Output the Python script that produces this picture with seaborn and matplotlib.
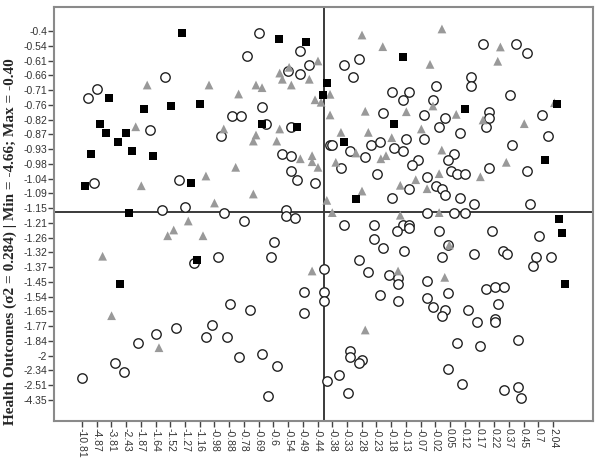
import pandas as pd
import seaborn as sns
import matplotlib.pyplot as plt

# eixos ordinais: posicao = indice do rotulo
x_labels = ['-10.81', '-4.87', '-3.81', '-2.43', '-1.87', '-1.64', '-1.52', '-1.27', '-1.16',
            '-0.98', '-0.88', '-0.78', '-0.69', '-0.6', '-0.54', '-0.49', '-0.44', '-0.38',
            '-0.33', '-0.28', '-0.23', '-0.18', '-0.13', '-0.07', '-0.02', '0.05', '0.12',
            '0.17', '0.22', '0.37', '0.45', '0.7', '2.04']
y_labels = ['-0.4', '-0.54', '-0.61', '-0.66', '-0.71', '-0.76', '-0.82', '-0.87', '-0.93',
            '-0.98', '-1.04', '-1.09', '-1.15', '-1.21', '-1.26', '-1.32', '-1.37', '-1.45',
            '-1.54', '-1.65', '-1.77', '-1.84', '-2', '-2.34', '-2.51', '-4.35']

# media (linhas de referencia), em unidades de indice
x_mean = 16.44
y_mean = 12.27

# quadrados pretos
sq_x = [6.81, 13.41, 15.21, 16.63, 16.39, 1.83, 4.23, 6.02, 8.02, 1.22, 1.63, 3.01, 2.43,
        3.42, 0.61, 4.83, 12.23, 14.62, 0.21, 7.42, 3.22, 21.83, 26.02, 32.25, 21.22, 17.82,
        31.45, 18.63, 32.42, 32.63, 32.83, 7.81, 2.61]
sq_y = [0.12, 0.52, 0.73, 3.50, 4.32, 4.52, 5.31, 5.10, 4.93, 6.31, 6.92, 6.92, 7.51,
        8.12, 8.32, 8.50, 6.33, 6.51, 10.51, 10.33, 12.31, 1.74, 5.31, 4.93, 6.33, 7.53,
        8.73, 11.36, 12.73, 13.72, 17.13, 15.53, 17.13]

# triangulos cinzas
tr_x = [16.03, 14.07, 13.43, 13.61, 15.44, 14.22, 4.43, 8.63, 11.82, 12.23, 10.64, 15.83,
        16.24, 16.85, 3.65, 9.63, 11.82, 11.64, 13.23, 13.43, 15.63, 14.83, 15.63, 16.03,
        10.44, 8.42, 4.03, 11.64, 9.00, 16.63, 7.22, 19.02, 24.45, 20.43, 28.42, 28.24,
        23.64, 16.85, 19.24, 22.03, 23.84, 25.42, 27.24, 30.04, 32.09, 17.59, 19.45, 21.04,
        23.05, 18.61, 20.30, 20.65, 24.44, 17.24, 28.82, 24.26, 22.67, 27.06, 21.62, 23.44,
        19.02, 17.00, 21.62, 24.26, 6.23, 5.82, 8.22, 1.40, 15.63, 2.01, 5.23, 24.95, 21.47,
        24.64, 19.24]
tr_y = [2.03, 2.46, 2.85, 3.27, 3.27, 3.66, 3.66, 3.66, 3.66, 3.84, 4.27, 4.66,
        4.83, 5.69, 6.49, 6.64, 7.05, 7.46, 7.46, 6.64, 8.45, 8.66, 8.86, 9.24,
        9.24, 9.83, 10.49, 11.05, 11.66, 11.48, 12.88, 0.27, -0.14, 1.06, 1.08, 2.05,
        2.26, 4.29, 5.44, 5.47, 5.08, 5.65, 6.03, 6.28, 4.86, 6.87, 6.87, 7.23,
        6.64, 8.27, 8.66, 8.45, 8.07, 8.90, 8.90, 9.67, 10.08, 9.88, 10.46, 10.69,
        10.85, 12.31, 12.49, 12.31, 13.49, 13.88, 13.88, 15.27, 16.27, 19.30, 21.47, 14.51, 16.27,
        16.70, 20.27]

# circulos abertos
ci_x = [12.02, 11.23, 14.81, 15.44, 14.01, 14.81, 5.62, 1.04, 0.42, 12.23, 10.21, 10.82,
        4.62, 9.42, 12.48, 14.20, 13.61, 14.22, 14.22, 14.62, 15.83, 0.84, 6.61, 5.46,
        7.02, 9.62, 13.84, 13.84, 14.45, 11.03, 16.85, 13.04, 9.24, 7.61, 12.82, 16.44,
        15.06, 16.44, 16.44, 15.06, 10.03, 11.43, 6.41, 8.84, 5.02, 8.42, 9.83, 3.82,
        10.64, 12.23, 13.23, 2.22, 2.83, 0.02, 12.64, 16.63, 27.22, 29.46, 30.25, 18.84,
        17.82, 18.43, 26.45, 26.45, 24.03, 21.04, 22.23, 21.83, 23.84, 29.06, 20.43, 23.25,
        24.64, 24.23, 27.63, 27.63, 27.43, 31.25, 31.66, 25.66, 17.00, 18.23, 19.64, 20.25,
        19.22, 21.22, 21.83, 22.03, 23.25, 25.25, 24.84, 22.83, 22.44, 17.61, 20.04, 23.44,
        25.05, 25.45, 26.03, 27.65, 29.23, 30.25, 24.03, 24.45, 24.64, 22.23, 21.04, 25.66,
        26.63, 30.44, 23.44, 25.25, 26.03, 17.82, 19.83, 21.83, 22.23, 22.23, 21.42, 24.26,
        27.85, 31.02, 19.83, 20.43, 21.86, 24.84, 24.45, 26.63, 28.62, 28.88, 30.84, 31.84,
        30.62, 18.84, 19.45, 20.83, 21.44, 21.44, 23.44, 24.84, 27.45, 28.06, 28.65, 20.25,
        21.44, 23.44, 23.86, 24.64, 24.45, 26.24, 28.26, 26.83, 28.04, 28.04, 25.45, 27.04,
        29.64, 18.23, 18.23, 19.04, 18.84, 17.44, 24.84, 25.84, 28.65, 29.64, 18.04, 29.85]
ci_y = [0.12, 1.69, 1.34, 2.31, 2.69, 2.92, 3.12, 3.93, 4.52, 5.13, 5.74, 5.74,
        6.71, 7.12, 6.33, 6.51, 8.32, 8.50, 9.51, 10.12, 10.31, 10.33, 10.12, 12.12,
        11.91, 12.31, 12.12, 12.52, 12.71, 12.88, 7.71, 14.33, 15.32, 15.71, 15.32, 16.14,
        17.72, 17.72, 18.33, 19.14, 18.53, 18.92, 20.12, 19.93, 20.54, 20.73, 20.73, 21.13,
        22.10, 21.92, 22.71, 22.53, 23.12, 23.53, 24.73, 23.75, 0.90, 0.90, 1.51, 1.92,
        2.33, 3.12, 3.12, 3.71, 3.71, 4.12, 4.12, 4.70, 4.70, 4.32, 5.54, 5.72,
        5.92, 6.53, 5.51, 5.92, 6.53, 5.72, 7.12, 6.94, 7.73, 8.12, 7.73, 7.53,
        8.52, 7.91, 8.12, 7.32, 7.32, 8.32, 8.73, 8.73, 9.11, 9.31, 9.70, 9.90,
        9.51, 9.72, 9.72, 9.31, 7.73, 9.51, 10.51, 10.71, 11.12, 10.71, 11.32, 11.32,
        11.71, 11.71, 12.31, 12.31, 12.31, 13.13, 13.13, 13.13, 13.13, 13.38, 13.54, 13.54,
        13.54, 13.92, 14.12, 14.73, 14.94, 14.53, 15.32, 15.12, 14.94, 15.12, 15.32, 15.32,
        15.93, 15.53, 16.34, 16.52, 16.75, 17.15, 16.93, 17.74, 17.51, 17.34, 17.34, 17.92,
        18.33, 18.12, 18.73, 18.94, 19.34, 18.94, 18.53, 19.73, 19.53, 19.73, 21.13, 21.34,
        20.93, 21.72, 22.12, 22.33, 22.53, 23.32, 22.92, 23.91, 24.34, 24.14, 24.52, 24.86]

df_ci = pd.DataFrame({'x': ci_x, 'y': ci_y})
df_tr = pd.DataFrame({'x': tr_x, 'y': tr_y})
df_sq = pd.DataFrame({'x': sq_x, 'y': sq_y})

sns.set_style('white')
plt.rcParams['font.family'] = ['Liberation Sans', 'DejaVu Sans']

fig = plt.figure(figsize=(5.96, 4.59), dpi=100)
ax = fig.add_axes([54 / 596, 1 - 421 / 459, 539 / 596, 414 / 459])

sns.scatterplot(data=df_ci, x='x', y='y', marker='o', s=46, facecolor='white',
                edgecolor='#222222', linewidth=1.0, ax=ax, zorder=3)
sns.scatterplot(data=df_tr, x='x', y='y', marker='^', s=40, color='#999999',
                edgecolor='none', linewidth=0, ax=ax, zorder=4)
sns.scatterplot(data=df_sq, x='x', y='y', marker='s', s=34, color='black',
                edgecolor='none', linewidth=0, ax=ax, zorder=5)

ax.axvline(x_mean, color='#3a3a3a', linewidth=1.4, zorder=2)
ax.axhline(y_mean, color='#3a3a3a', linewidth=1.4, zorder=2)

ax.set_xlim(-1.90, 34.71)
ax.set_ylim(26.44, -1.63)
ax.set_xticks(range(len(x_labels)))
ax.set_xticklabels(x_labels, rotation=270, fontsize=7.5, color='#333333')
ax.set_yticks(range(len(y_labels)))
ax.set_yticklabels(y_labels, fontsize=7.5, color='#333333')
ax.tick_params(axis='both', direction='out', length=4, width=1, color='#444444', pad=1,
               bottom=True, left=True)
ax.set_xlabel('')
ax.set_ylabel('')
for sp in ax.spines.values():
    sp.set_color('#8a8a8a')
    sp.set_linewidth(1.5)

fig.text(10 / 596, 1 - 242 / 459, 'Health Outcomes (σ2 = 0.284) | Min = -4.66; Max = -0.40',
         rotation=90, ha='center', va='center', fontsize=11, fontweight='bold',
         family=['Liberation Serif', 'DejaVu Serif'])

fig.savefig('out.png', dpi=100)
